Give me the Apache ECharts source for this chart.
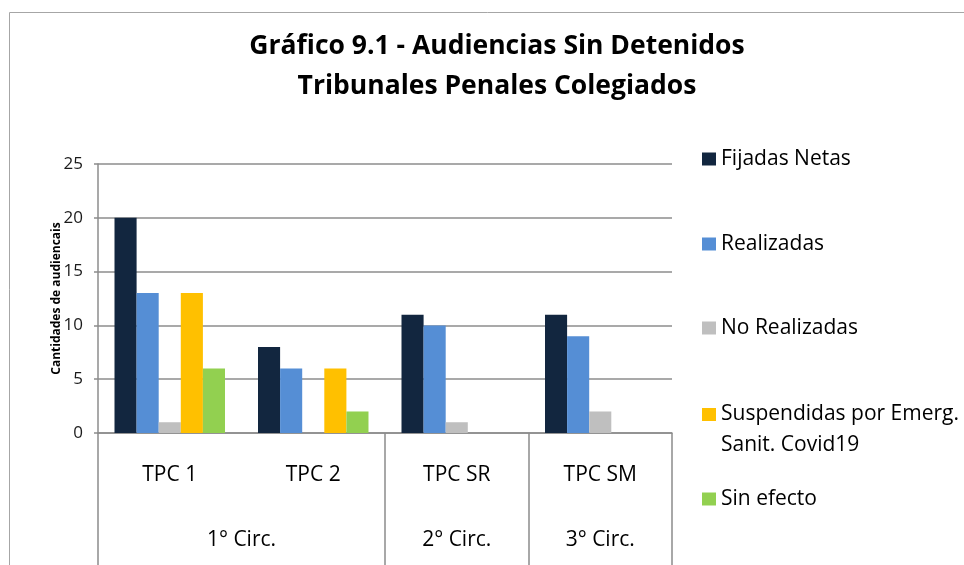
<!DOCTYPE html>
<html>
<head>
<meta charset="utf-8">
<title>Gráfico 9.1 - Audiencias Sin Detenidos</title>
<script src="https://cdn.jsdelivr.net/npm/echarts@6/dist/echarts.min.js"></script>
<style>
  html, body { margin: 0; padding: 0; background: #fff; }
  #chart { width: 964px; height: 565px; }
</style>
</head>
<body>
<div id="chart"></div>
<script>
// categorías (tribunales)
const tribunales = ['TPC 1', 'TPC 2', 'TPC SR', 'TPC SM'];
// segundo nivel: circunscripciones y cuántos tribunales abarca cada una
const circunscripciones = ['1° Circ.', '2° Circ.', '3° Circ.'];
const circSpan = [2, 1, 1];

// valores por serie
const fijadasNetas = [20, 8, 11, 11];
const realizadas = [13, 6, 10, 9];
const noRealizadas = [1, 0, 1, 2];
const suspendidas = [13, 6, 0, 0];
const sinEfecto = [6, 2, 0, 0];

// marcas del eje Y
const yTicks = [0, 5, 10, 15, 20, 25];

const FONT = '"Open Sans", "Noto Sans", sans-serif';
const GRID_GRAY = '#8c8c8c';

// límites y centros de cada circunscripción sobre el eje
const circBounds = [0];
circSpan.forEach(s => circBounds.push(circBounds[circBounds.length - 1] + s));
const circCenters = circSpan.map((s, i) => circBounds[i] + s / 2);

const seriesDefs = [
  { name: 'Fijadas Netas', data: fijadasNetas, color: '#12263f' },
  { name: 'Realizadas', data: realizadas, color: '#558ed5' },
  { name: 'No Realizadas', data: noRealizadas, color: '#bfbfbf' },
  { name: 'Suspendidas por Emerg. Sanit. Covid19', data: suspendidas, color: '#ffc000' },
  { name: 'Sin efecto', data: sinEfecto, color: '#92d050' },
];

// una leyenda por elemento para poder ubicarlos como en el original
const legendTops = [147, 232, 316, 368, 487];
const legends = seriesDefs.map((s, i) => {
  const twoLines = i === 3;
  return {
    data: [s.name],
    left: 702,
    top: legendTops[i],
    padding: 0,
    itemWidth: 14,
    itemHeight: 13,
    icon: 'rect',
    selectedMode: false,
    // línea vacía al inicio para que la primera línea quede junto al icono
    formatter: name => twoLines ? '\n' + name.replace('Emerg. ', 'Emerg.\n') : name,
    textStyle: {
      fontFamily: FONT,
      fontSize: 21,
      color: '#000',
      lineHeight: twoLines ? 31 : 24,
    },
  };
});

const chart = echarts.init(document.getElementById('chart'));

const option = {
  backgroundColor: '#fff',
  animation: false,
  title: {
    text: 'Gráfico 9.1 - Audiencias Sin Detenidos\nTribunales Penales Colegiados',
    left: 497,
    top: 26,
    padding: 0,
    textAlign: 'center',
    textStyle: {
      fontFamily: FONT,
      fontSize: 26.5,
      fontWeight: 'bold',
      color: '#000',
      lineHeight: 40,
    },
  },
  legend: legends,
  grid: {
    left: 98,
    right: 292,
    top: 164,
    bottom: 132,
  },
  xAxis: [
    {
      type: 'category',
      position: 'bottom',
      data: tribunales,
      axisLine: { lineStyle: { color: GRID_GRAY, width: 1.5 } },
      axisTick: { show: false },
      axisLabel: {
        fontFamily: FONT,
        fontSize: 21,
        color: '#000',
        margin: 32,
      },
    },
    {
      // nivel de circunscripción
      type: 'value',
      position: 'bottom',
      min: circBounds[0],
      max: circBounds[circBounds.length - 1],
      axisLine: { show: false },
      splitLine: { show: false },
      axisTick: {
        show: true,
        customValues: circBounds,
        length: 140,
        lineStyle: { color: GRID_GRAY, width: 1.5 },
      },
      axisLabel: {
        customValues: circCenters,
        formatter: v => circunscripciones[circCenters.indexOf(v)] || '',
        fontFamily: FONT,
        fontSize: 21,
        color: '#000',
        margin: 97,
      },
    },
  ],
  yAxis: {
    type: 'value',
    min: yTicks[0],
    max: yTicks[yTicks.length - 1],
    interval: yTicks[1] - yTicks[0],
    name: 'Cantidades de audiencais',
    nameLocation: 'middle',
    nameRotate: 90,
    nameGap: 35,
    nameMoveOverlap: false,
    nameTextStyle: {
      fontFamily: FONT,
      fontSize: 12,
      fontWeight: 'bold',
      color: '#000',
    },
    axisLine: { show: true, lineStyle: { color: GRID_GRAY, width: 1.5 } },
    axisTick: { show: true, length: 4, lineStyle: { color: GRID_GRAY, width: 1.5 } },
    splitLine: { lineStyle: { color: GRID_GRAY, width: 1.5 } },
    axisLabel: {
      fontFamily: FONT,
      fontSize: 17,
      color: '#1a1a1a',
      margin: 15,
    },
  },
  graphic: [
    {
      // marco del gráfico
      type: 'rect',
      silent: true,
      shape: { x: 9.5, y: 12.5, width: 1000, height: 600 },
      style: { fill: 'none', stroke: '#a6a6a6', lineWidth: 1 },
      z: -1,
    },
  ],
  series: seriesDefs.map(s => ({
    name: s.name,
    type: 'bar',
    xAxisIndex: 0,
    data: s.data,
    barGap: '0%',
    barCategoryGap: '23%',
    itemStyle: { color: s.color },
  })),
};

chart.setOption(option);
</script>
</body>
</html>
